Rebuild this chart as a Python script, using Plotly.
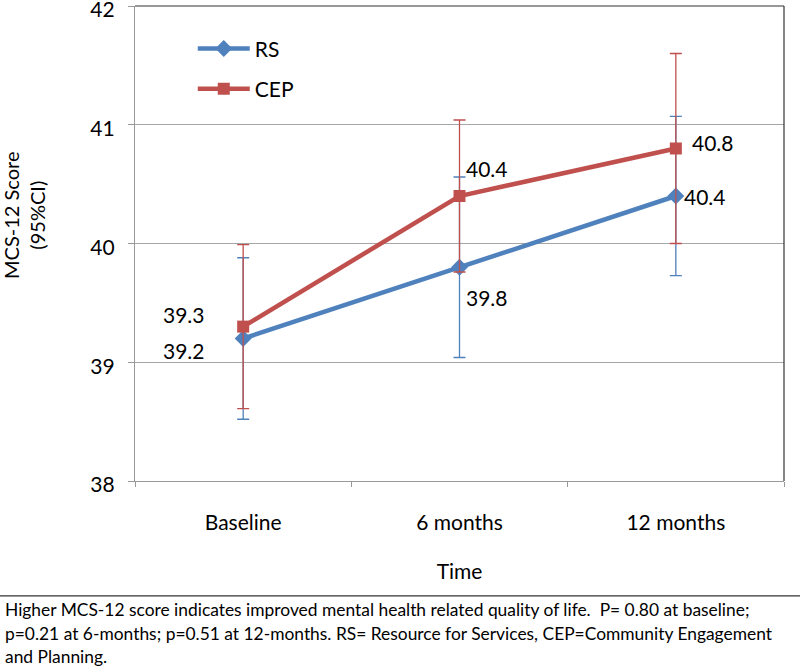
import plotly.graph_objects as go

categories = ["Baseline", "6 months", "12 months"]
rs_values = [39.2, 39.8, 40.4]
rs_err = [0.68, 0.76, 0.67]
cep_values = [39.3, 40.4, 40.8]
cep_err = [0.69, 0.64, 0.80]
y_ticks = [38, 39, 40, 41, 42]
footnote_lines = [
    "Higher MCS-12 score indicates improved mental health related quality of life.  P= 0.80 at baseline;",
    "p=0.21 at 6-months; p=0.51 at 12-months. RS= Resource for Services, CEP=Community Engagement",
    "and Planning.",
]

BLUE = "#4F81BD"
RED = "#C0504D"
FONT = "Lato"
FS = 21

fig = go.Figure()
fig.add_trace(go.Scatter(
    x=categories, y=rs_values, name="RS", mode="lines+markers",
    line=dict(color=BLUE, width=4.5), marker=dict(symbol="diamond", size=13, color=BLUE),
    error_y=dict(type="data", array=rs_err, color=BLUE, thickness=1.3, width=6),
    legendgroup="a"))
fig.add_trace(go.Scatter(
    x=categories, y=cep_values, name="CEP", mode="lines+markers",
    line=dict(color=RED, width=4.5), marker=dict(symbol="square", size=12, color=RED),
    error_y=dict(type="data", array=cep_err, color=RED, thickness=1.3, width=6),
    legendgroup="b"))

# data labels
rs_offsets = [(-59, -12), (27, -30), (29, 0)]
cep_offsets = [(-59, 12), (27, 28), (37, 6)]
for i, c in enumerate(categories):
    dx, dy = rs_offsets[i]
    fig.add_annotation(x=c, y=rs_values[i], text=f"{rs_values[i]:.1f}", showarrow=False,
                       xshift=dx, yshift=dy, font=dict(size=FS, color="black", family=FONT))
    dx, dy = cep_offsets[i]
    fig.add_annotation(x=c, y=cep_values[i], text=f"{cep_values[i]:.1f}", showarrow=False,
                       xshift=dx, yshift=dy, font=dict(size=FS, color="black", family=FONT))

# y-axis title
fig.add_annotation(xref="paper", yref="paper", x=(24 - 135) / 649, y=0.558, xanchor="center", yanchor="middle",
                   text="MCS-12 Score<br>(95%CI)",
                   textangle=-90, showarrow=False, font=dict(size=20, color="black", family=FONT))

# footnote
for k, line in enumerate(footnote_lines):
    fig.add_annotation(xref="paper", yref="paper", x=-0.203, y=(481 - (610 + 23 * k)) / 475,
                       xanchor="left", yanchor="middle", align="left", text=line, showarrow=False,
                       font=dict(size=17.4, color="black", family=FONT))
fig.add_shape(type="line", xref="paper", yref="paper", x0=-0.21, x1=1.03, y0=-0.242, y1=-0.242,
              line=dict(color="#333333", width=1.2))
# top and right border
fig.add_shape(type="line", xref="paper", yref="paper", x0=0, x1=1, y0=1, y1=1,
              line=dict(color="#333333", width=1.2))
fig.add_shape(type="line", xref="paper", yref="paper", x0=1, x1=1, y0=0, y1=1,
              line=dict(color="#333333", width=1.2))

fig.update_layout(
    width=800, height=667,
    margin=dict(l=135, r=16, t=6, b=186),
    paper_bgcolor="white", plot_bgcolor="white",
    font=dict(family=FONT, size=FS, color="black"),
    legend=dict(x=0.089, y=0.953, xanchor="left", yanchor="top", bgcolor="rgba(0,0,0,0)",
                font=dict(size=FS, family=FONT), tracegroupgap=10, itemwidth=52),
    showlegend=True,
)
fig.update_xaxes(
    type="category", range=[-0.5, 2.5], tickson="boundaries", ticks="outside", ticklen=5,
    tickcolor="#999999", showline=True, linecolor="#999999", linewidth=1.2, showgrid=False,
    ticklabelstandoff=23, tickfont=dict(size=FS), automargin=False,
    title=dict(text="Time", font=dict(size=FS), standoff=31),
)
fig.update_yaxes(
    range=[38, 42], tickvals=y_ticks, ticks="outside", ticklen=6, tickcolor="#999999",
    showline=True, linecolor="#999999", linewidth=1.2, automargin=False,
    showgrid=True, gridcolor="#A6A6A6", gridwidth=1.2, zeroline=False,
    tickfont=dict(size=FS), ticklabelstandoff=9, ticklabelshift=4, ticklabeloverflow="allow",
)

fig.write_html("out.html", post_script="document.body.style.margin='0';",
               config={"displayModeBar": False})
